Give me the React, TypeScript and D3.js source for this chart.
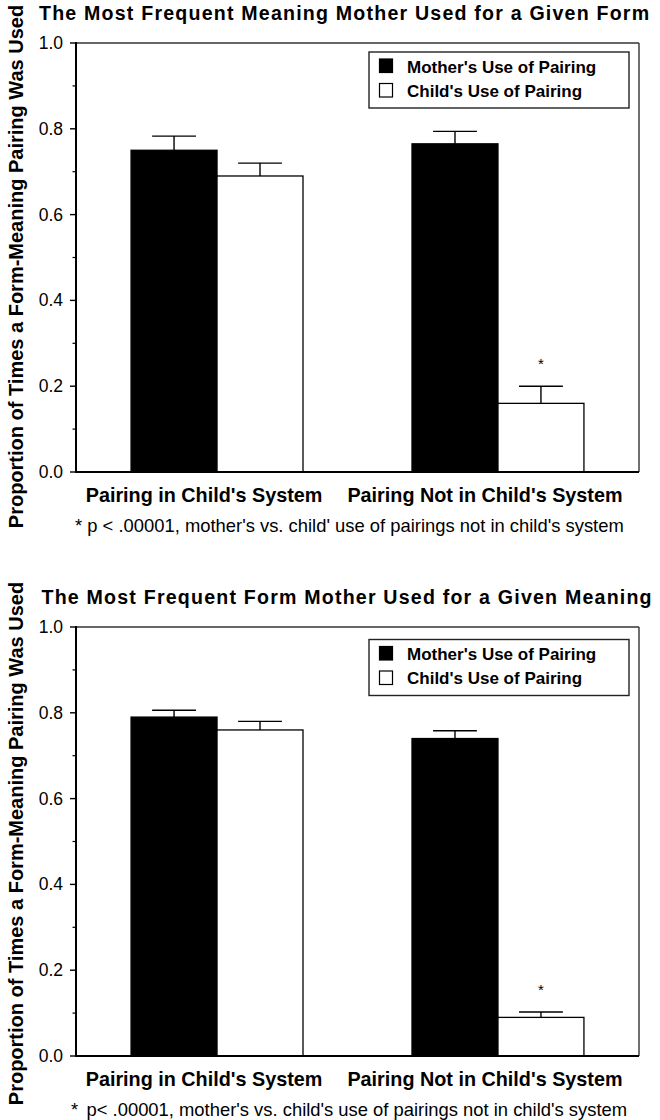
import React from "react";
import * as d3 from "d3";

const categories = ["Pairing in Child's System", "Pairing Not in Child's System"];
const seriesNames = ["Mother's Use of Pairing", "Child's Use of Pairing"];
const seriesFill = ["#000", "#fff"];

// panel 1: most frequent meaning mother used for a form
const formMother = [0.75, 0.765];
const formMotherErr = [0.033, 0.029];
const formChild = [0.69, 0.16];
const formChildErr = [0.03, 0.04];

// panel 2: most frequent form mother used for a meaning
const meaningMother = [0.79, 0.74];
const meaningMotherErr = [0.016, 0.018];
const meaningChild = [0.76, 0.09];
const meaningChildErr = [0.02, 0.0125];

const sigChild = [false, true];
const yTicks = [0, 0.2, 0.4, 0.6, 0.8, 1.0];
const yMinor = [0.1, 0.3, 0.5, 0.7, 0.9];
const yTitle = "Proportion of Times a Form-Meaning Pairing Was Used";

const FONT = "'Liberation Sans', Arial, Helvetica, sans-serif";
const left = 76;
const right = 639;
const plotH = 429;

type PanelProps = {
  top: number;
  title: string;
  titleX: number;
  mother: number[];
  motherErr: number[];
  child: number[];
  childErr: number[];
  note: React.ReactNode;
  noteX: number;
  legendDy: number;
  yLabelDy: number;
};

const Panel = (p: PanelProps) => {
  const bottom = p.top + plotH;
  const y = d3.scaleLinear().domain([0, 1]).range([bottom, p.top]);
  const x0 = d3.scaleBand().domain(categories).range([left, right])
    .paddingInner(0.388).paddingOuter(0.196);
  const x1 = d3.scaleBand().domain(seriesNames).range([0, x0.bandwidth()]);
  const bw = x1.bandwidth();
  const capHalf = bw * 0.255;

  const series = [
    { name: seriesNames[0], vals: p.mother, errs: p.motherErr },
    { name: seriesNames[1], vals: p.child, errs: p.childErr },
  ];

  const lx = 369, lw = 260, lh = 56;
  const ly = p.top + p.legendDy;

  return (
    <g fontFamily={FONT}>
      <text x={p.titleX} y={p.top - 23} fontSize={19.6} fontWeight="bold" letterSpacing={1.2}>{p.title}</text>

      {/* frame top/right */}
      <line x1={left} x2={right} y1={p.top} y2={p.top} stroke="#333" strokeWidth={1.4} />
      <line x1={right} x2={right} y1={p.top} y2={bottom} stroke="#333" strokeWidth={1.4} />

      {/* bars */}
      {categories.map((c, i) => (
        <g key={c}>
          {series.map((s, j) => {
            const bx = (x0(c) as number) + (x1(s.name) as number);
            const cx = bx + bw / 2;
            const ty = y(s.vals[i]);
            const ey = y(s.vals[i] + s.errs[i]);
            return (
              <g key={s.name}>
                <line x1={cx} x2={cx} y1={ty} y2={ey} stroke="#000" strokeWidth={1.4} />
                <line x1={cx - capHalf} x2={cx + capHalf} y1={ey} y2={ey} stroke="#000" strokeWidth={1.4} />
                <rect x={bx} y={ty} width={bw} height={bottom - ty} fill={seriesFill[j]} stroke="#000" strokeWidth={1.3} />
                {j === 1 && sigChild[i] && (
                  <text x={cx} y={ey - 17} fontSize={15} textAnchor="middle">*</text>
                )}
              </g>
            );
          })}
          <text x={(x0(c) as number) + x0.bandwidth() / 2 - 13} y={bottom + 30} fontSize={19.8} fontWeight="bold" textAnchor="middle">{c}</text>
        </g>
      ))}

      {/* y axis */}
      <line x1={left} x2={left} y1={p.top - 1} y2={bottom + 1} stroke="#000" strokeWidth={2} />
      <line x1={left - 1} x2={right} y1={bottom} y2={bottom} stroke="#000" strokeWidth={2} />
      {yTicks.map((t) => (
        <g key={t}>
          <line x1={left - 6} x2={left} y1={y(t)} y2={y(t)} stroke="#000" strokeWidth={1.4} />
          <text x={left - 13} y={y(t) + 6} fontSize={17.5} textAnchor="end">{d3.format(".1f")(t)}</text>
        </g>
      ))}
      {yMinor.map((t) => (
        <line key={t} x1={left - 3.5} x2={left} y1={y(t)} y2={y(t)} stroke="#000" strokeWidth={1.2} />
      ))}
      <text transform={`translate(23,${(p.top + bottom) / 2 + p.yLabelDy}) rotate(-90)`} fontSize={20} fontWeight="bold" textAnchor="middle">{yTitle}</text>

      {/* legend */}
      <rect x={lx} y={ly} width={lw} height={lh} fill="#fff" stroke="#222" strokeWidth={1.4} />
      {seriesNames.map((n, j) => (
        <g key={n}>
          <rect x={lx + 10.5} y={ly + 7 + j * 24.5} width={13} height={13.5} fill={seriesFill[j]} stroke="#000" strokeWidth={1.2} />
          <text x={lx + 38} y={ly + 20.5 + j * 24} fontSize={17} fontWeight="bold">{n}</text>
        </g>
      ))}

      <text x={p.noteX} y={bottom + 60} fontSize={18.4}>{p.note}</text>
    </g>
  );
};

const App = () => (
  <svg width={660} height={1120} style={{ position: "absolute", left: 0, top: 0, background: "#fff" }}>
    <Panel
      top={43}
      title="The Most Frequent Meaning Mother Used for a Given Form"
      titleX={39}
      mother={formMother}
      motherErr={formMotherErr}
      child={formChild}
      childErr={formChildErr}
      note="* p < .00001, mother's vs. child' use of pairings not in child's system"
      noteX={75}
      legendDy={9}
      yLabelDy={9}
    />
    <Panel
      top={627}
      title="The Most Frequent Form Mother Used for a Given Meaning"
      titleX={41.5}
      mother={meaningMother}
      motherErr={meaningMotherErr}
      child={meaningChild}
      childErr={meaningChildErr}
      note={<><tspan x={71}>*</tspan><tspan x={86.5}>p&lt; .00001, mother's vs. child's use of pairings not in child's system</tspan></>}
      noteX={71}
      legendDy={12.5}
      yLabelDy={2}
    />
  </svg>
);

export default App;
